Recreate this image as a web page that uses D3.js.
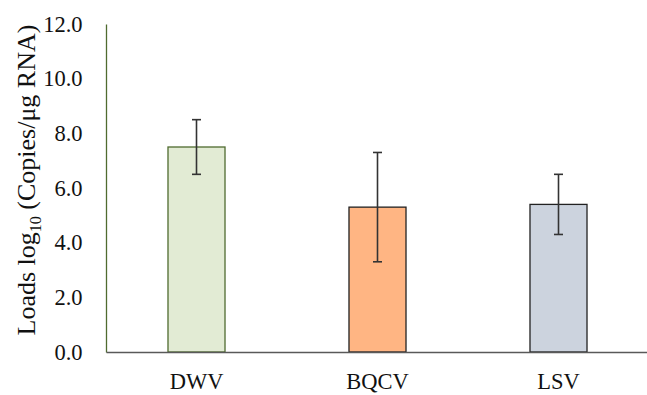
<!DOCTYPE html>
<html><head><meta charset="utf-8">
<script src="https://cdn.jsdelivr.net/npm/d3@7"></script>
<style>body{margin:0;background:#fff}svg{display:block}</style>
</head><body>
<svg id="c" width="647" height="395"></svg>
<script>
const categories = ["DWV", "BQCV", "LSV"];
const values = [7.5, 5.3, 5.4];
const errors = [1.0, 2.0, 1.1];
const yTicks = [0, 2, 4, 6, 8, 10, 12];
const fills = ["#e2ebd4", "#ffb583", "#ccd3de"];
const strokes = ["#4f6b2f", "#222222", "#222222"];

(function(){
const svg = d3.select("#c");
const font = "'Liberation Serif','Times New Roman',serif";
const mLeft = 106, mRight = 649, mTop = 24, mBottom = 352;

const x = d3.scaleBand().domain(categories).range([mLeft, mRight]).padding(0);
const y = d3.scaleLinear().domain([0, 12]).range([mBottom, mTop]);
const bw = x.bandwidth() * 0.315;

svg.selectAll("rect.bar").data(categories).join("rect")
  .attr("class", "bar")
  .attr("x", d => x(d) + x.bandwidth()/2 - bw/2)
  .attr("y", (d,i) => y(values[i]))
  .attr("width", bw)
  .attr("height", (d,i) => y(0) - y(values[i]))
  .attr("fill", (d,i) => fills[i])
  .attr("stroke", (d,i) => strokes[i])
  .attr("stroke-width", 1.3);

const eg = svg.append("g").attr("stroke", "#333").attr("stroke-width", 1.6);
categories.forEach((d,i) => {
  const cx = x(d) + x.bandwidth()/2;
  eg.append("line").attr("x1", cx).attr("x2", cx)
    .attr("y1", y(values[i]+errors[i])).attr("y2", y(values[i]-errors[i]));
  [values[i]+errors[i], values[i]-errors[i]].forEach(v => {
    eg.append("line").attr("x1", cx-4.5).attr("x2", cx+4.5).attr("y1", y(v)).attr("y2", y(v));
  });
});

const ya = svg.append("g").attr("transform", `translate(${mLeft},0)`)
  .call(d3.axisLeft(y).tickValues(yTicks).tickSize(0).tickPadding(23.5).tickFormat(d3.format(".1f")));
ya.select(".domain").attr("stroke", "#4f6b2f").attr("stroke-width", 1.3);
ya.selectAll("text").attr("font-family", font).attr("font-size", 22.5).attr("fill", "#111");

const xa = svg.append("g").attr("transform", `translate(0,${mBottom})`)
  .call(d3.axisBottom(x).tickSize(0).tickPadding(21.5));
xa.select(".domain").attr("stroke", "#595959").attr("stroke-width", 1.5);
xa.selectAll("text").attr("font-family", font).attr("font-size", 22.5).attr("fill", "#111");

const t = svg.append("text")
  .attr("transform", "translate(35,180) rotate(-90)")
  .attr("text-anchor", "middle")
  .attr("font-family", font).attr("font-size", 26).attr("fill", "#111");
t.append("tspan").text("Loads log");
t.append("tspan").attr("font-size", 16).attr("dy", 6).text("10");
t.append("tspan").attr("dy", -6).text(" (Copies/\u03bcg RNA)");
})();
</script>
</body></html>
